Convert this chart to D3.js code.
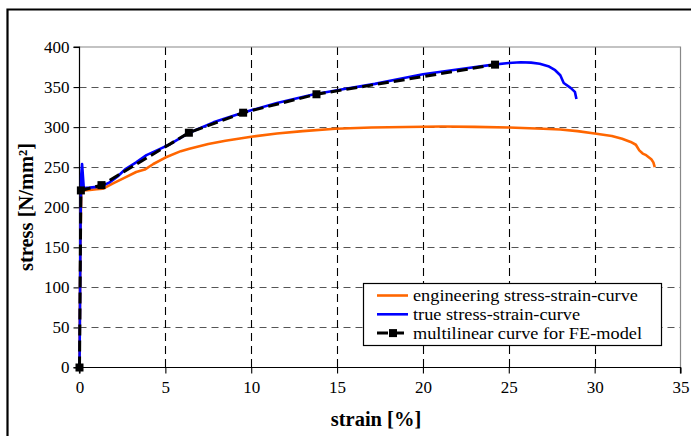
<!DOCTYPE html>
<html>
<head>
<meta charset="utf-8">
<script src="https://d3js.org/d3.v7.min.js"></script>
<style>
body { margin: 0; background: #fff; }
svg text { font-family: "Liberation Serif", "Times New Roman", serif; }
</style>
</head>
<body>
<div id="chart"></div>
<script>
// strain [%] and stress [N/mm2]
var engStrain = [0, 0.05, 0.1, 0.25, 0.6, 1.0, 1.35, 1.93, 2.7, 3.3, 3.8, 4.3, 5.0, 5.9, 6.4, 7.5, 8.5, 10, 11.5, 13, 14.9, 17, 19, 21.1, 23, 25, 27, 28, 29, 30, 31, 31.6, 32.1, 32.4, 32.6, 32.8, 33.0, 33.3, 33.42, 33.5];
var engStress = [0, 150, 218, 221, 221.5, 222.5, 223, 229.5, 237.5, 244, 247, 254, 262, 270, 273, 279, 283, 288, 292, 295, 298, 299.5, 300.2, 300.7, 300.3, 299.5, 298, 297, 295, 292, 289, 285.5, 281.5, 278, 271, 267, 265, 260, 256, 250];

var trueStrain = [0, 0.03, 0.06, 0.1, 0.15, 0.25, 0.6, 1.28, 1.75, 2.2, 2.7, 3.3, 3.9, 4.6, 5.3, 6.4, 7.8, 9.5, 11.5, 13.6, 15.5, 17.2, 18.6, 20, 22, 24.1, 25, 25.7, 26.3, 26.8, 27.3, 27.7, 28.0, 28.2, 28.6, 28.85, 28.94];
var trueStress = [0, 80, 180, 240, 254, 224, 224.5, 226, 231, 238, 248, 256, 265, 272, 279, 293, 306, 318, 330, 340.6, 348, 354, 360, 366, 372, 378, 380, 381, 380.5, 379, 376, 371, 364.7, 355, 349, 344, 335];

var feStrain = [0, 0.08, 1.28, 6.37, 9.53, 13.8, 24.2];
var feStress = [0, 221, 227.6, 293, 318, 341, 378];

var xTicks = [0, 5, 10, 15, 20, 25, 30, 35];
var yTicks = [0, 50, 100, 150, 200, 250, 300, 350, 400];

var legendLabels = ["engineering stress-strain-curve", "true stress-strain-curve", "multilinear curve for FE-model"];
var legendColors = ["#ff6600", "#0000ff", "#000000"];

var width = 691, height = 436;
var pLeft = 79.5, pRight = 680.5, pTop = 47, pBottom = 367.5;
var serif = "'Liberation Serif', 'Times New Roman', serif";

var svg = d3.select("#chart").append("svg").attr("width", width).attr("height", height)
    .attr("font-family", serif);

// outer frame (cut at the right and bottom edge)
svg.append("path").attr("d", "M 7.5 440 L 7.5 9.5 L 700 9.5")
    .attr("fill", "none").attr("stroke", "#000").attr("stroke-width", 2.2);

var x = d3.scaleLinear().domain([0, 35]).range([pLeft, pRight]);
var y = d3.scaleLinear().domain([0, 400]).range([pBottom, pTop]);

// grid
svg.append("g").selectAll("line").data(yTicks.slice(1, -1)).enter().append("line")
    .attr("x1", pLeft).attr("x2", pRight)
    .attr("y1", function (d) { return Math.round(y(d)) + 0.5; })
    .attr("y2", function (d) { return Math.round(y(d)) + 0.5; })
    .attr("stroke", "#555").attr("stroke-width", 1.2).attr("stroke-dasharray", "7,5");
svg.append("g").selectAll("line").data(xTicks.slice(1, -1)).enter().append("line")
    .attr("y1", pTop).attr("y2", pBottom)
    .attr("x1", function (d) { return Math.round(x(d)) + 0.5; })
    .attr("x2", function (d) { return Math.round(x(d)) + 0.5; })
    .attr("stroke", "#000").attr("stroke-width", 1.1).attr("stroke-dasharray", "8,5");

// plot area border top/right
svg.append("path").attr("d", "M " + pLeft + " " + pTop + " L " + pRight + " " + pTop + " L " + pRight + " " + pBottom)
    .attr("fill", "none").attr("stroke", "#888").attr("stroke-width", 1.2);

// axes
var xAxis = svg.append("g").attr("transform", "translate(0," + pBottom + ")")
    .call(d3.axisBottom(x).tickValues(xTicks).tickSize(6).tickPadding(7).tickFormat(d3.format("d")));
var yAxis = svg.append("g").attr("transform", "translate(" + pLeft + ",0)")
    .call(d3.axisLeft(y).tickValues(yTicks).tickSize(6).tickPadding(4).tickFormat(d3.format("d")));
[xAxis, yAxis].forEach(function (a) {
    a.attr("font-family", serif).attr("font-size", 17);
    a.select(".domain").attr("stroke", "#000").attr("stroke-width", 1.2);
    a.selectAll(".tick line").attr("stroke", "#000").attr("stroke-width", 1.1);
    a.selectAll(".tick text").attr("fill", "#000");
});
xAxis.select(".domain").attr("d", "M" + pLeft + ",6V0H" + pRight + "V6");
yAxis.select(".domain").attr("d", "M-6," + pBottom + "H0V" + pTop + "H-6");

// axis titles
svg.append("text").attr("x", 376).attr("y", 426).attr("text-anchor", "middle")
    .attr("font-size", 20.5).attr("font-weight", "bold").text("strain [%]");
svg.append("text").attr("transform", "translate(33,207) rotate(-90)").attr("text-anchor", "middle")
    .attr("font-size", 20.5).attr("font-weight", "bold").text("stress [N/mm²]");

var line = d3.line().x(function (d) { return x(d[0]); }).y(function (d) { return y(d[1]); });

svg.append("path").datum(d3.zip(engStrain, engStress)).attr("d", line)
    .attr("fill", "none").attr("stroke", legendColors[0]).attr("stroke-width", 2.6).attr("stroke-linejoin", "round");
svg.append("path").datum(d3.zip(trueStrain, trueStress)).attr("d", line)
    .attr("fill", "none").attr("stroke", legendColors[1]).attr("stroke-width", 2.6).attr("stroke-linejoin", "round");
svg.append("path").datum(d3.zip(feStrain, feStress)).attr("d", line)
    .attr("fill", "none").attr("stroke", legendColors[2]).attr("stroke-width", 3).attr("stroke-dasharray", "11,5");
svg.append("g").selectAll("rect").data(d3.zip(feStrain, feStress)).enter().append("rect")
    .attr("x", function (d) { return x(d[0]) - 4; })
    .attr("y", function (d) { return y(d[1]) - 4; })
    .attr("width", 8).attr("height", 8).attr("fill", "#000");

// legend
var lg = svg.append("g");
lg.append("rect").attr("x", 363.5).attr("y", 283.5).attr("width", 298).attr("height", 62)
    .attr("fill", "#fff").attr("stroke", "#000").attr("stroke-width", 1.2);
legendLabels.forEach(function (d, i) {
    var yy = 295.5 + i * 18.8;
    lg.append("line").attr("x1", 377).attr("x2", 408).attr("y1", yy).attr("y2", yy)
        .attr("stroke", legendColors[i]).attr("stroke-width", i == 2 ? 3 : 2.6)
        .attr("stroke-dasharray", i == 2 ? "11,5" : null);
    if (i == 2) {
        lg.append("rect").attr("x", 389).attr("y", yy - 4).attr("width", 8).attr("height", 8).attr("fill", "#000");
    }
    // text a bit wider than the font gives, like the picture
    lg.append("text").attr("transform", "translate(413," + (yy + 5.5) + ") scale(1.13,1)")
        .attr("font-size", 16.2).text(d);
});
</script>
</body>
</html>
